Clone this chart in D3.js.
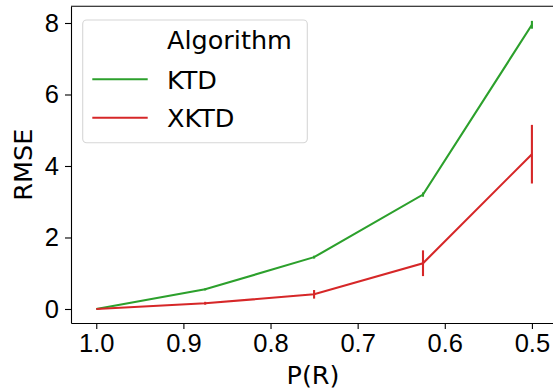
<!DOCTYPE html>
<html>
<head>
<meta charset="utf-8">
<script src="https://d3js.org/d3.v7.min.js"></script>
<style>
    body { margin: 0; background: #ffffff; }
    svg { display: block; font-family: "DejaVu Sans", sans-serif; }
    .axis path, .axis line { stroke: #000000; stroke-width: 1.1; }
    .axis text { font-size: 25.5px; fill: #000000; }
</style>
</head>
<body>
<script>

// Data
var probabilities = [1.0, 0.875, 0.75, 0.625, 0.5];
var ktdRmse = [0.0, 0.55, 1.45, 3.2, 7.95];
var ktdError = [0.0, 0.03, 0.04, 0.06, 0.11];
var xktdRmse = [0.0, 0.16, 0.41, 1.28, 4.33];
var xktdError = [0.0, 0.04, 0.12, 0.36, 0.82];
var xTicks = [1.0, 0.9, 0.8, 0.7, 0.6, 0.5];
var yTicks = [0, 2, 4, 6, 8];
var seriesNames = ["KTD", "XKTD"];
var seriesColors = ["#2ca02c", "#d62728"];

window.onload = function() {
    lineChart();
};

/*
 * Draws the line chart with error bars
 */

function lineChart() {

    var svgWidth = 553;
    var svgHeight = 391;

    // Plot area edges in pixels
    var left = 71;
    var right = 555;
    var top = 6.3;
    var bottom = 323;

    const svg = d3.select("body").append("svg")
        .attr("width", svgWidth)
        .attr("height", svgHeight);

    // x axis is reversed, 1.0 on the left
    const xScale = d3.scaleLinear()
        .domain([1.029, 0.4735])
        .range([left, right]);

    const yScale = d3.scaleLinear()
        .domain([-0.392, 8.467])
        .range([bottom, top]);

    // Draw x-axis
    svg.append("g")
        .attr("class", "axis")
        .attr("transform", `translate(0, ${bottom})`)
        .call(d3.axisBottom(xScale)
            .tickValues(xTicks)
            .tickFormat(d3.format(".1f"))
            .tickSize(6)
            .tickPadding(5)
            .tickSizeOuter(0));

    // Draw y-axis
    svg.append("g")
        .attr("class", "axis")
        .attr("transform", `translate(${left}, 0)`)
        .call(d3.axisLeft(yScale)
            .tickValues(yTicks)
            .tickFormat(d3.format("d"))
            .tickSize(6)
            .tickPadding(6)
            .tickSizeOuter(0));

    // Remaining spines (top and right)
    svg.append("line")
        .attr("x1", left).attr("x2", right)
        .attr("y1", top).attr("y2", top)
        .attr("stroke", "#000000")
        .attr("stroke-width", 1.1);

    svg.append("line")
        .attr("x1", right).attr("x2", right)
        .attr("y1", top).attr("y2", bottom)
        .attr("stroke", "#000000")
        .attr("stroke-width", 1.1);

    // Axis labels
    svg.append("text")
        .attr("x", (left + right) / 2)
        .attr("y", 384)
        .attr("text-anchor", "middle")
        .attr("font-size", 25.5)
        .text("P(R)");

    svg.append("text")
        .attr("transform", `translate(32, ${(top + bottom) / 2}) rotate(-90)`)
        .attr("text-anchor", "middle")
        .attr("font-size", 25.5)
        .text("RMSE");

    var series = [
        { name: seriesNames[0], values: ktdRmse, errors: ktdError, color: seriesColors[0] },
        { name: seriesNames[1], values: xktdRmse, errors: xktdError, color: seriesColors[1] }
    ];

    const line = d3.line()
        .x(function(d) { return xScale(d[0]); })
        .y(function(d) { return yScale(d[1]); });

    series.forEach(function(s) {
        var points = probabilities.map(function(p, i) {
            return [p, s.values[i], s.errors[i]];
        });

        svg.append("path")
            .datum(points)
            .attr("fill", "none")
            .attr("stroke", s.color)
            .attr("stroke-width", 2.1)
            .attr("d", line);

        // Error bars without caps
        svg.selectAll(null)
            .data(points)
            .enter()
            .append("line")
            .attr("x1", function(d) { return xScale(d[0]); })
            .attr("x2", function(d) { return xScale(d[0]); })
            .attr("y1", function(d) { return yScale(d[1] - d[2]); })
            .attr("y2", function(d) { return yScale(d[1] + d[2]); })
            .attr("stroke", s.color)
            .attr("stroke-width", 2.1);
    });

    // Legend
    const legend = svg.append("g");

    legend.append("rect")
        .attr("x", 82.7)
        .attr("y", 20)
        .attr("width", 224.6)
        .attr("height", 122.7)
        .attr("rx", 4)
        .attr("fill", "#ffffff")
        .attr("fill-opacity", 0.8)
        .attr("stroke", "#d6d6d6")
        .attr("stroke-width", 1.1);

    legend.append("text")
        .attr("x", 167)
        .attr("y", 49)
        .attr("font-size", 25.5)
        .text("Algorithm");

    var legendRows = [79.3, 117.7];
    series.forEach(function(s, i) {
        legend.append("line")
            .attr("x1", 92.3).attr("x2", 147.7)
            .attr("y1", legendRows[i]).attr("y2", legendRows[i])
            .attr("stroke", s.color)
            .attr("stroke-width", 2.1);

        legend.append("text")
            .attr("x", 167)
            .attr("y", legendRows[i] + 9.2)
            .attr("font-size", 25.5)
            .text(s.name);
    });
};

</script>
</body>
</html>
